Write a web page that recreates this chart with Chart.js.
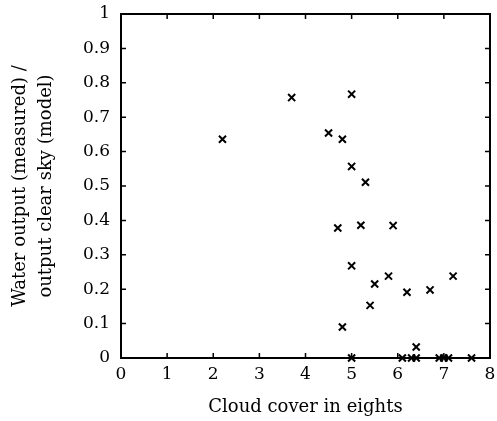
<!DOCTYPE html>
<html lang="en">
<head>
<meta charset="UTF-8">
<title>Water output vs cloud cover</title>
<script src="https://cdn.jsdelivr.net/npm/chart.js"></script>
<style>
  body { margin: 0; background: #fff; }
  #wrap { width: 497px; height: 421px; }
</style>
</head>
<body>
<div id="wrap"><canvas id="myChart"></canvas></div>
<script>
// cloud cover (eighths) and measured / clear-sky output
const cloudCover = [2.2, 3.7, 5.0, 4.5, 4.8, 5.0, 5.3, 4.7, 5.2, 5.9, 5.0, 5.8, 5.5, 6.2, 6.7, 7.2, 5.4, 4.8, 6.4,
                    5.0, 6.1, 6.3, 6.4, 6.9, 7.0, 7.1, 7.6];
const outputRatio = [0.636, 0.757, 0.767, 0.654, 0.636, 0.557, 0.511, 0.378, 0.386, 0.385, 0.268, 0.238, 0.215, 0.191, 0.198, 0.238, 0.153, 0.09, 0.032,
                     0, 0, 0, 0, 0, 0, 0, 0];

const xTitle = 'Cloud cover in eights';
const yTitle = ['Water output (measured) /', 'output clear sky (model)'];

const points = cloudCover.map((c, i) => ({ x: c, y: outputRatio[i] }));

const tickFont = { family: 'DejaVu Serif', size: 17 };
const titleFont = { family: 'DejaVu Serif', size: 18, lineHeight: 1.45 };

// inward tick marks on all four sides plus the frame
const frameTicks = {
    id: 'frameTicks',
    afterDatasetsDraw(chart) {
        const { ctx, chartArea: a, scales: { x, y } } = chart;
        ctx.save();
        ctx.strokeStyle = '#000';
        ctx.lineWidth = 1.5;
        ctx.beginPath();
        x.ticks.forEach(t => {
            const px = x.getPixelForValue(t.value);
            ctx.moveTo(px, a.bottom); ctx.lineTo(px, a.bottom - 5);
            ctx.moveTo(px, a.top); ctx.lineTo(px, a.top + 5);
        });
        y.ticks.forEach(t => {
            const py = y.getPixelForValue(t.value);
            ctx.moveTo(a.left, py); ctx.lineTo(a.left + 5, py);
            ctx.moveTo(a.right, py); ctx.lineTo(a.right - 5, py);
        });
        ctx.stroke();
        ctx.lineWidth = 2;
        ctx.strokeRect(a.left, a.top, a.right - a.left, a.bottom - a.top);
        ctx.restore();
    }
};

const canvas = document.getElementById('myChart');
const ctx = canvas.getContext('2d');

const myChart = new Chart(ctx, {
    type: 'scatter',
    data: {
        datasets: [{
            data: points,
            pointStyle: 'crossRot',
            pointRadius: 5,
            pointBorderWidth: 2,
            borderColor: '#000',
            backgroundColor: '#000',
            clip: false
        }]
    },
    options: {
        responsive: true,
        maintainAspectRatio: false,
        animation: false,
        layout: { padding: { left: 0, right: 6, top: 14, bottom: 0 } },
        scales: {
            x: {
                type: 'linear',
                min: 0,
                max: 8,
                grid: { display: false, drawTicks: false },
                border: { display: false },
                ticks: { stepSize: 1, color: '#000', font: tickFont, padding: 6 },
                title: { display: true, text: xTitle, color: '#000', font: titleFont, padding: { top: 6, bottom: 1 } },
                afterFit(scale) {
                    scale.height = 63;
                    scale.paddingLeft = 0;
                    scale.paddingRight = 0;
                }
            },
            y: {
                type: 'linear',
                min: 0,
                max: 1,
                grid: { display: false, drawTicks: false },
                border: { display: false },
                ticks: {
                    stepSize: 0.1, color: '#000', font: tickFont, padding: 11,
                    callback: v => String(+v.toFixed(1))
                },
                title: {
                    display: true, text: yTitle, color: '#000',
                    font: titleFont,
                    padding: { top: 7, bottom: 4 }
                },
                afterFit(scale) {
                    scale.width = 121;
                    scale.paddingTop = 0;
                    scale.paddingBottom = 0;
                }
            }
        },
        plugins: {
            legend: { display: false },
            tooltip: { enabled: false }
        }
    },
    plugins: [frameTicks]
});
</script>
</body>
</html>
